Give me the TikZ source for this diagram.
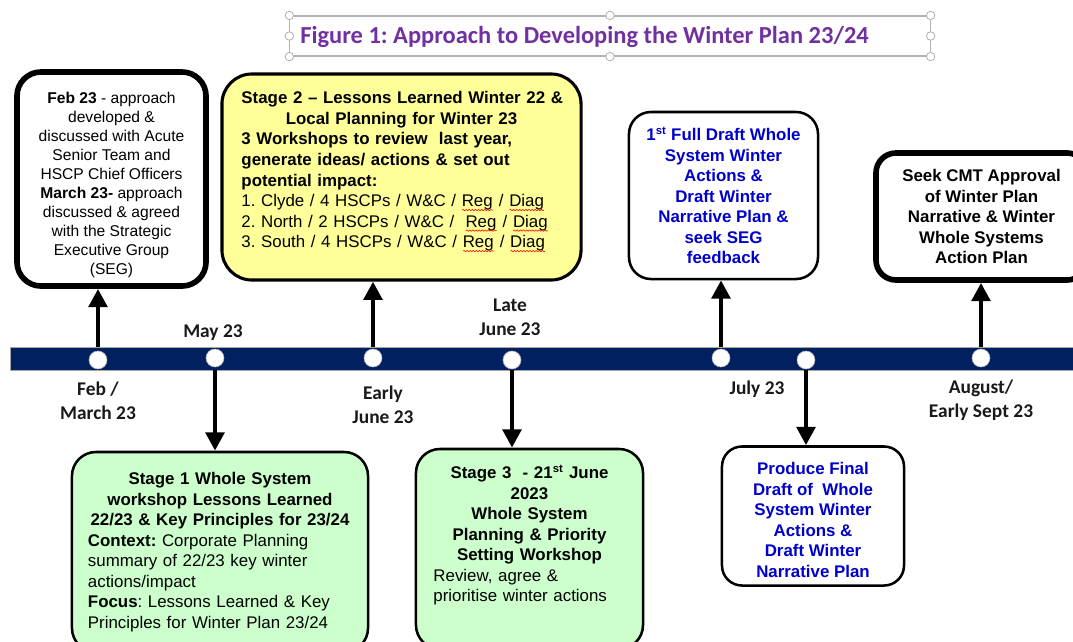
\documentclass[tikz,border=0pt]{standalone}
\usepackage{fontspec}
\setmainfont{Liberation Sans}
\newfontfamily\calibri{Carlito}
\usepackage{xcolor}
\usetikzlibrary{arrows.meta, positioning, calc, decorations.pathmorphing}
\definecolor{navy}{HTML}{002060}
\definecolor{titlepurple}{HTML}{7030A0}
\definecolor{paleyellow}{HTML}{FFFF99}
\definecolor{palegreen}{HTML}{CCFFCC}
\definecolor{boxblue}{HTML}{0000CC}
\frenchspacing
\newsavebox{\spellbox}
\newcommand{\spell}[1]{\sbox{\spellbox}{#1}\rlap{\usebox{\spellbox}}%
  \tikz[baseline=0pt, x=1pt, y=1pt, sharp corners]\draw[red, line width=0.4pt, decorate,
    decoration={snake, amplitude=0.5pt, segment length=2.2pt}] (0,-2.5) -- (\the\wd\spellbox,-2.5);}

\begin{document}
\begin{tikzpicture}[x=0.025cm, y=-0.025cm, >={Triangle[length=13pt, width=13pt]},
  event/.style={draw=black, fill=white, align=center, inner sep=3pt,
    font=\fontsize{12}{14.6}\selectfont},
  datelabel/.style={align=center, text=black!90, font=\calibri\bfseries\fontsize{13.8}{17}\selectfont},
  dot/.style={circle, draw=gray!60, fill=white, minimum size=0.45cm, inner sep=0pt},
  link/.style={->, line width=3.5pt},
  handle/.style={draw=gray!60, fill=white, line width=0.6pt}]
  \useasboundingbox (0,0) rectangle (1073,641);

  % Title in a selected text frame
  \node[draw=gray!60, line width=0.8pt, minimum width=16cm, minimum height=1cm] (titlebox) at (610,36) {};
  \foreach \a in {north west, west, south west, north, south, north east, east, south east}
    \draw[handle] (titlebox.\a) circle (3pt);
  \node[anchor=west, inner sep=0pt, text=titlepurple, font=\calibri\bfseries\fontsize{17.4}{21}\selectfont] (title) at (300,37)
    {Figure 1: Approach to Developing the Winter Plan 23/24};

  % Timeline bar with its milestone dots
  \node[fill=navy, draw=gray!70, anchor=west, minimum width=26.8cm, minimum height=0.575cm, inner sep=0pt] (bar) at (10,358.5) {};
  \foreach \name/\x/\y in {dfeb/98/360, dmay/215/358, djune/373/358, dlate/512/360, dfirst/721/358, dfinal/806/360, dcmt/981/358}
    \node[dot] (\name) at (\x,\y) {};

  % Boxes above the timeline
  \node[event, line width=4pt, rounded corners=0.6cm, minimum width=4.725cm, minimum height=5.35cm,
    font=\fontsize{11.1}{13.5}\selectfont] (feb) at (111.5,179)
    {\rule{0pt}{16.5pt}\textbf{Feb 23} - approach\\developed \&\\discussed with Acute\\Senior Team and\\HSCP Chief Officers\\\textbf{March 23-} approach\\discussed \& agreed\\with the Strategic\\Executive Group\\(SEG)};
  \node[event, fill=paleyellow, line width=2.2pt, rounded corners=0.75cm, minimum width=8.975cm, minimum height=5.15cm,
    text width=8cm, align=left] (stagetwo) at (401.5,177)
    {{\centering\bfseries \mbox{Stage 2 -- Lessons Learned Winter 22 \&}\\Local Planning for Winter 23\par}
    \textbf{3 Workshops to review\ \ last year,\\generate ideas/ actions \& set out\\potential impact:}\\
    1. Clyde / 4 HSCPs / W\&C / \spell{Reg} / \spell{Diag}\\
    2. North / 2 HSCPs / W\&C /\ \ \spell{Reg} / \spell{Diag}\\
    3. South / 4 HSCPs / W\&C / \spell{Reg} / \spell{Diag}\rule[-10.5pt]{0pt}{1pt}};
  \node[event, line width=1.8pt, rounded corners=0.55cm, minimum width=4.725cm, minimum height=4.175cm,
    text=boxblue, font=\bfseries\fontsize{12}{14.6}\selectfont] (firstdraft) at (723.5,195.5)
    {1\textsuperscript{st} Full Draft Whole\\System Winter\\Actions \&\\Draft Winter\\Narrative Plan \&\\seek SEG\\feedback};
  \node[event, line width=4pt, rounded corners=0.5cm, minimum width=5.275cm, minimum height=3.175cm,
    font=\bfseries\fontsize{12}{14.6}\selectfont] (cmt) at (981.5,216.5)
    {Seek CMT Approval\\of Winter Plan\\Narrative \& Winter\\Whole Systems\\Action Plan};

  % Boxes below the timeline
  \node[event, fill=palegreen, line width=1.8pt, rounded corners=0.6cm, minimum width=7.4cm, minimum height=5cm,
    text width=6.6cm, align=left] (stageone) at (220,552)
    {{\centering\bfseries Stage 1 Whole System\\workshop Lessons Learned\\22/23 \& Key Principles for 23/24\par}
    \textbf{Context:} Corporate Planning\\summary of 22/23 key winter\\actions/impact\\
    \textbf{Focus}: Lessons Learned \& Key\\Principles for Winter Plan 23/24};
  \node[event, fill=palegreen, line width=1.8pt, rounded corners=0.6cm, minimum width=5.675cm, minimum height=5cm,
    text width=4.8cm, align=left] (stagethree) at (529.5,549)
    {{\centering\bfseries Stage 3\ \ - 21\textsuperscript{st} June\\2023\\Whole System\\Planning \& Priority\\Setting Workshop\par}
    Review, agree \&\\prioritise winter actions\par\rule{0pt}{0.65cm}};
  \node[event, line width=1.8pt, rounded corners=0.5cm, minimum width=4.55cm, minimum height=3.475cm,
    text=boxblue, font=\bfseries\fontsize{12}{14.6}\selectfont] (finaldraft) at (813,516)
    {\rule{0pt}{14.5pt}Produce Final\\Draft of\ \ Whole\\System Winter\\Actions \&\\Draft Winter\\Narrative Plan};

  % Arrows from the dots to their boxes
  \draw[link] (dfeb |- bar.north) -- (dfeb |- feb.south);
  \draw[link] (djune |- bar.north) -- (djune |- stagetwo.south);
  \draw[link] (dfirst |- bar.north) -- (dfirst |- firstdraft.south);
  \draw[link] (dcmt |- bar.north) -- (dcmt |- cmt.south);
  \draw[link] (dmay |- bar.south) -- (dmay |- stageone.north);
  \draw[link] (dlate |- bar.south) -- (dlate |- stagethree.north);
  \draw[link] (dfinal |- bar.south) -- (dfinal |- finaldraft.north);

  % Date labels along the timeline
  \node[datelabel] (lmay) at (213,333) {May 23};
  \node[datelabel] (llate) at (510,317) {Late\\June 23};
  \node[datelabel] (lfeb) at (98,401) {Feb /\\March 23};
  \node[datelabel] (ljune) at (383,405) {Early\\June 23};
  \node[datelabel] (ljuly) at (757,389) {July 23};
  \node[datelabel] (laug) at (981,400) {August/\\Early Sept 23};
\end{tikzpicture}
\end{document}
